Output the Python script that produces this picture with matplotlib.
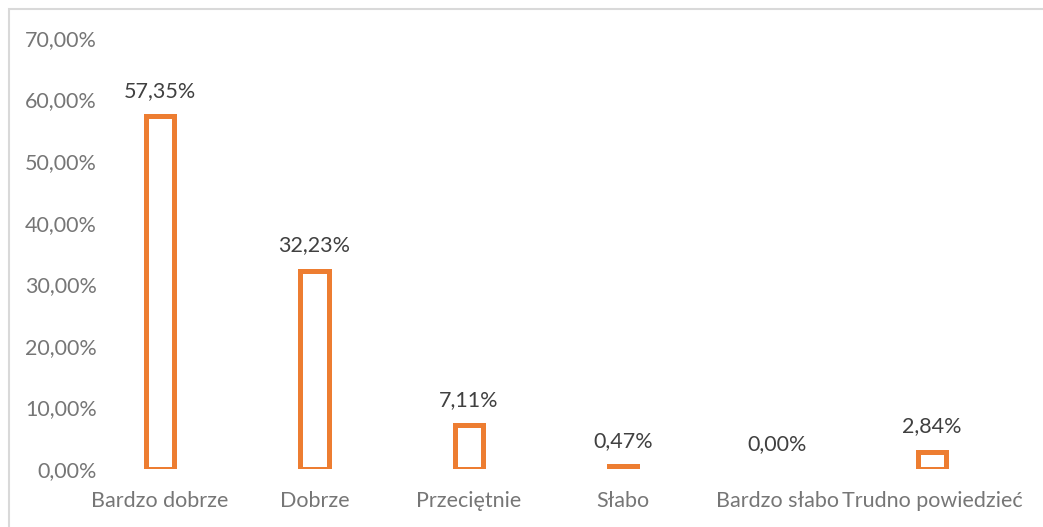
import matplotlib
matplotlib.use("Agg")
import matplotlib.pyplot as plt
from matplotlib.patches import Rectangle

categories = ["Bardzo dobrze", "Dobrze", "Przeciętnie", "Słabo", "Bardzo słabo", "Trudno powiedzieć"]
values = [57.35, 32.23, 7.11, 0.47, 0.00, 2.84]
yticks = [0, 10, 20, 30, 40, 50, 60, 70]

plt.rcParams['font.family'] = ['Lato', 'DejaVu Sans']

fig = plt.figure(figsize=(10.43, 5.27), dpi=100)
fig.patch.set_facecolor('white')
fig.patches.append(Rectangle((9/1043, -0.1), 1.2, (1 - 8.5/527) + 0.1, transform=fig.transFigure,
                             fill=False, edgecolor='#d9d9d9', linewidth=1.5, zorder=0))

ax = fig.add_axes([83/1043, 1 - 469/527, (1009 - 83)/1043, (469 - 38)/527])
x = list(range(len(categories)))
orange = '#ED7D31'
edges = [orange if v > 0 else 'none' for v in values]
ax.bar(x, values, width=0.185, facecolor='white', edgecolor=edges, linewidth=3.6)

for xi, v in zip(x, values):
    ax.annotate(f"{v:.2f}%".replace('.', ','), (xi, v), xytext=(0, 18), textcoords='offset points',
                ha='center', va='center', fontsize=15.5, color='#404040')

ax.set_xlim(-0.5, len(categories) - 0.5)
ax.set_ylim(0, 70)
ax.set_yticks(yticks)
ax.set_yticklabels([f"{t:.2f}%".replace('.', ',') for t in yticks])
ax.set_xticks(x)
ax.set_xticklabels(categories)
for s in ax.spines.values():
    s.set_visible(False)
ax.tick_params(axis='both', length=0, labelsize=15.5, colors='#767676')
ax.tick_params(axis='y', pad=-10)
ax.tick_params(axis='x', pad=16)

fig.savefig("out.png", dpi=100, facecolor='white')
